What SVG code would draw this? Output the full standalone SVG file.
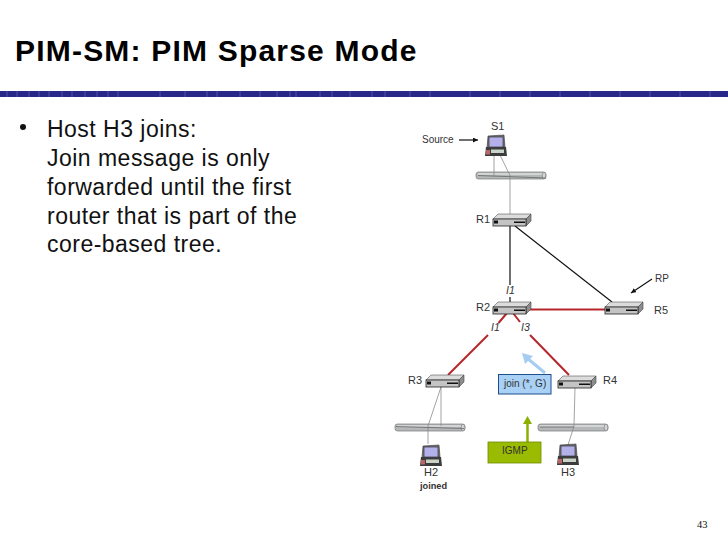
<svg xmlns="http://www.w3.org/2000/svg" width="728" height="546" viewBox="0 0 728 546">
<style>
text{font-family:"Liberation Sans",Arial,sans-serif;fill:#111}
.title{font-size:30px;font-weight:bold;letter-spacing:1.2px}
.body{font-size:23px;letter-spacing:.48px}
.lbl{font-size:11px;fill:#333}
.sm{font-size:10px;fill:#333}
.it{font-size:10.5px;font-style:italic;fill:#333}
.thin{fill:none;stroke:#8a8a8a;stroke-width:.8}
.blk{fill:none;stroke:#111;stroke-width:1.2}
.red{fill:none;stroke:#b5272c;stroke-width:2}
</style>
<defs>
<marker id="ah" markerWidth="6" markerHeight="6" refX="5" refY="2.5" orient="auto" markerUnits="userSpaceOnUse"><path d="M0 0L5 2.5L0 5z" fill="#111"/></marker>
<g id="router">
<path d="M0 5L5 0H38L33 5z" fill="#dcdcdc" stroke="#555" stroke-width=".6"/>
<path d="M33 5L38 0V7L33 12z" fill="#8d8d8d" stroke="#444" stroke-width=".6"/>
<rect x="0" y="5" width="33" height="7" fill="#c4c4c4" stroke="#222" stroke-width=".8"/>
<rect x="1" y="6.500" width="4" height="3" fill="#111"/>
<rect x="21" y="7.500" width="11" height="1.500" fill="#111"/>
</g>
<g id="host">
<path d="M2 13L3 1L19 0L20 12z" fill="#777" stroke="#333" stroke-width=".6"/>
<rect x="4" y="2" width="14" height="10" fill="#b4b0ea" stroke="#222" stroke-width=".6"/>
<path d="M1 12H21L22 21H0z" fill="#3c3c3c"/>
<rect x="1" y="15" width="4" height="4.500" fill="#b66"/>
<rect x="6" y="14.500" width="13" height="3.500" fill="#c8d4c8"/>
</g>
<g id="seg">
<rect x="0" y="0" width="70" height="7" rx="2.500" fill="#b4b8b8" stroke="#777" stroke-width=".7"/>
<path d="M2 2H68" stroke="#dedede" stroke-width="1.500"/>
<ellipse cx="68" cy="3.500" rx="1.800" ry="3.300" fill="#d5d5d5" stroke="#777" stroke-width=".6"/>
</g>
</defs>

<text class="title" x="15" y="61" style="fill:#000">PIM-SM: PIM Sparse Mode</text>
<g id="rule">
<rect x="0" y="91" width="728" height="6" fill="#28288a"/>
<path d="M7 91v6M17 91v6M29 91v6M39 91v6M49 91v6M62 91v6M72 91v6M85 91v6M97 91v6M108 91v6M118 91v6M160 91v6M185 91v6M207 91v6M217 91v6M240 91v6M260 91v6M277 91v6M290 91v6M296 91v6M320 91v6M332 91v6M350 91v6M372 91v6M385 91v6M410 91v6M430 91v6M470 91v6M500 91v6M530 91v6M560 91v6M590 91v6M620 91v6M650 91v6M680 91v6M710 91v6" stroke="#6f6fb5" stroke-width=".6"/>
</g>
<g id="bullet-text">
<circle cx="23" cy="127" r="3" fill="#111"/>
<text class="body" x="47" y="137">Host H3 joins:</text>
<text class="body" x="47" y="166">Join message is only</text>
<text class="body" x="47" y="195">forwarded until the first</text>
<text class="body" x="47" y="223.500">router that is part of the</text>
<text class="body" x="47" y="252">core-based tree.</text>
</g>
<text id="page" x="697" y="528" style="font-family:'Liberation Serif',serif;font-size:10.5px">43</text>

<g id="segments">
<use href="#seg" x="476" y="172"/>
<use href="#seg" x="395" y="424"/>
<use href="#seg" x="538" y="424"/>
</g>

<g id="connectors">
<path class="thin" d="M494 155V175.500M500 155L510 175.500M510 175.500V218"/>
<path class="thin" d="M441 387V426M441 387L428 426M428 426V444"/>
<path class="thin" d="M575 387L574 426M574 426L568 445"/>
<path d="M478 175.500L546 178M396 426.500L464 428.500M540 427H574" fill="none" stroke="#666" stroke-width=".8"/>
<path class="blk" d="M510 226V285M510 297V302M515 226L612 302"/>
<path class="red" d="M527 309.500H605"/>
<path class="red" d="M507 313L498.500 323M488 335L448 375"/>
<path class="red" d="M513 313L520 322M530 335L569 375"/>
<path class="blk" stroke-width="1" d="M459 140H478" marker-end="url(#ah)"/>
<path class="blk" stroke-width="1" d="M652 279L631 293" marker-end="url(#ah)"/>
</g>

<g id="arrow-join"><path d="M545 373L527 358" fill="none" stroke="#a5cdf2" stroke-width="3"/><path d="M522 353L533 356L525 364z" fill="#a5cdf2"/></g>
<g id="arrow-igmp"><path d="M527.500 442V423" fill="none" stroke="#8db000" stroke-width="2.500"/><path d="M523 424L527.500 416L532 424z" fill="#8db000"/></g>

<g id="S1"><use href="#host" x="485" y="135"/><text class="lbl" x="491" y="130">S1</text></g>
<text id="source" class="sm" x="422" y="143">Source</text>
<g id="R1"><use href="#router" x="493" y="214"/><text class="lbl" x="476" y="222.500">R1</text></g>
<g id="R2"><use href="#router" x="493" y="302"/><text class="lbl" x="476" y="311">R2</text></g>
<g id="R5"><use href="#router" x="605" y="302"/><text class="lbl" x="654" y="314">R5</text></g>
<g id="R3"><use href="#router" x="426" y="375"/><text class="lbl" x="408" y="384">R3</text></g>
<g id="R4"><use href="#router" x="558" y="376"/><text class="lbl" x="603" y="384">R4</text></g>
<g id="H2"><use href="#host" x="420" y="445"/><text class="lbl" x="424" y="476">H2</text><text x="420" y="489" style="font-size:9.200px;font-weight:bold;fill:#333">joined</text></g>
<g id="H3"><use href="#host" x="557" y="444"/><text class="lbl" x="561" y="476">H3</text></g>
<text id="rp" class="lbl" style="font-size:10px" x="655" y="282">RP</text>
<text class="it" x="506" y="293.500">I1</text>
<text class="it" x="491" y="331">I1</text>
<text class="it" x="521" y="331">I3</text>
<g id="join"><rect x="498.500" y="374.500" width="52.500" height="19.500" fill="#a9d0f5" stroke="#1f4e8c" stroke-width="1"/><text class="sm" x="504" y="387">join (*, G)</text></g>
<g id="IGMP"><rect x="488" y="442" width="53" height="21" fill="#99bb00" stroke="#6f8a00" stroke-width=".8"/><text class="sm" x="502" y="454">IGMP</text></g>
</svg>
